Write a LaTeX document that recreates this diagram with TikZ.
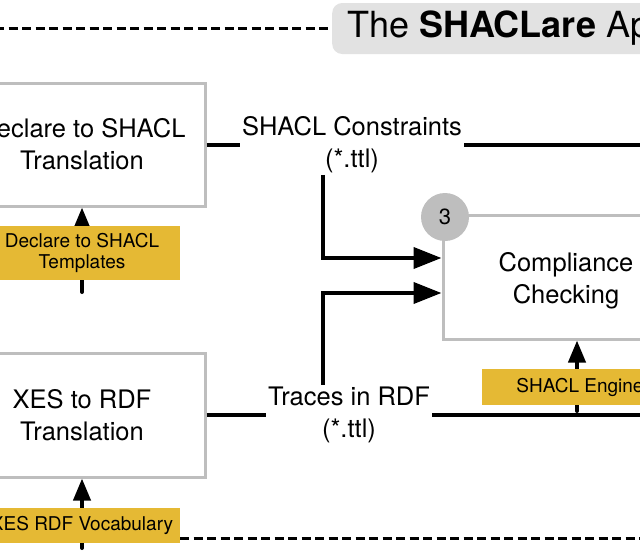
\documentclass[tikz,border=0pt]{standalone}
\usepackage{fontspec}
\setmainfont{TeX Gyre Heros}
\usetikzlibrary{arrows.meta,calc}
\definecolor{boxgray}{RGB}{190,190,190}
\definecolor{titlegray}{RGB}{226,226,226}
\definecolor{ochre}{RGB}{229,185,52}
\begin{document}
\begin{tikzpicture}[x=1pt,y=-1pt,
  procbox/.style={draw=boxgray, line width=3pt, fill=white, minimum width=246pt, minimum height=123pt, align=center, font=\fontsize{25.5}{32}\selectfont},
  proctext/.style={align=center, font=\fontsize{25.5}{32}\selectfont},
  datalabel/.style={fill=white, inner sep=2pt, align=center, font=\fontsize{25.5}{32}\selectfont},
  resource/.style={fill=ochre, minimum width=196pt, align=center, inner sep=0pt, font=\fontsize{19}{21}\selectfont},
  conn/.style={line width=4pt},
  inarrow/.style={line width=4pt, -{Triangle[length=28pt,width=21pt]}},
  uparrow/.style={line width=4pt, line cap=round, -{Triangle[length=22pt,width=17pt]}},
  boundary/.style={line width=3pt, dash pattern=on 9pt off 4.5pt},
]
\useasboundingbox (0,0) rectangle (640,555);

% process boxes
\node[procbox] (b1) at (82,144.5) {Declare to SHACL\\Translation};
\node[procbox, minimum height=124pt] (b2) at (82,415) {XES to RDF\\Translation};
\node[procbox, minimum height=124pt] (b3) at (566,277) {};
\node[proctext] (b3t) at (566,280.5) {Compliance\\Checking};

% data labels
\node[datalabel] (shc) at (352,144.5) {SHACL Constraints\\(*.ttl)};
\node[datalabel] (trc) at (349,415) {Traces in RDF\\(*.ttl)};

% connectors
\coordinate (v1) at (323,0);
\coordinate (e1) at (650,144.5);
\coordinate (e2) at (650,415);
\draw[conn] (b1.east) -- (shc.west);
\draw[conn] (shc.east) -- (e1);
\draw[conn] (b2.east) -- (trc.west);
\draw[conn] (trc.east) -- (e2);
\draw[inarrow] (shc.south -| v1) |- ($(b3.west)+(0,-19)$);
\draw[inarrow] (trc.north -| v1) |- ($(b3.west)+(0,16)$);

% resource arrows
\coordinate (s1) at (82,292);
\coordinate (s2) at (82,548);
\coordinate (s3) at (577,411);
\draw[uparrow] (s1) -- (b1.south);
\draw[uparrow] (s2) -- (b2.south);
\draw[uparrow] (s3) -- (s3 |- b3.south);

% resources
\node[resource, minimum height=54pt] (r1) at (82,253) {Declare to SHACL\\Templates};
\node[resource, minimum height=35pt] (r2) at (82,525.5) {XES RDF Vocabulary};
\node[resource, minimum height=36pt] (r3) at (580,387) {SHACL Engine};

% step number
\node[circle, fill=boxgray, minimum size=48pt, inner sep=0pt, font=\fontsize{22}{22}\selectfont] (n3) at (445,217) {3};

% boundary and title
\coordinate (d0) at (-5,28.5);
\coordinate (d2) at (650,538);
\node[fill=titlegray, rounded corners=10pt, minimum height=51pt, inner xsep=15pt, anchor=west, font=\fontsize{36}{36}\selectfont] (title) at (332,28.5) {The \textbf{SHACLare} Ap};
\draw[boundary] (d0) -- (title.west);
\draw[boundary] (r2.east |- d2) -- (d2);
\end{tikzpicture}
\end{document}
